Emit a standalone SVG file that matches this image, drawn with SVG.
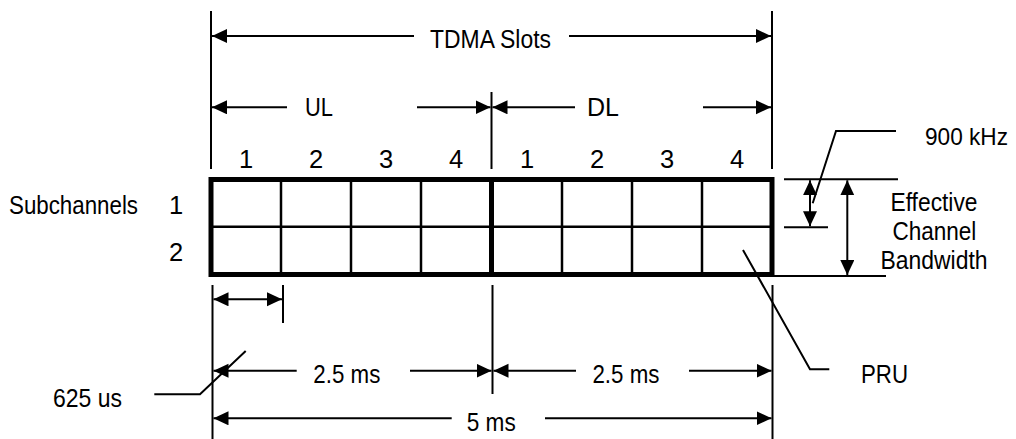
<svg xmlns="http://www.w3.org/2000/svg" width="1016" height="439" viewBox="0 0 1016 439">
<style>
text{font-family:"Liberation Sans",Arial,sans-serif;font-size:25.5px;fill:#000}
.m{text-anchor:middle}
.l{stroke:#000;stroke-width:2;fill:none}
.thin{stroke:#000;stroke-width:2.5;fill:none}
.thick{stroke:#000;stroke-width:5;fill:none}
.a{marker-end:url(#ah)}
.s{marker-start:url(#ah)}
</style>
<defs>
<marker id="ah" markerUnits="userSpaceOnUse" markerWidth="16" markerHeight="15" refX="15" refY="7" orient="auto-start-reverse"><path d="M0,0 L15,7 L0,14 z" fill="#000"/></marker>
</defs>
<rect width="1016" height="439" fill="#fff"/>
<g id="grid">
<line class="thin" x1="211" y1="226.7" x2="772" y2="226.7"/>
<line class="thin" x1="281" y1="179.5" x2="281" y2="274.5"/>
<line class="thin" x1="351" y1="179.5" x2="351" y2="274.5"/>
<line class="thin" x1="421" y1="179.5" x2="421" y2="274.5"/>
<line class="thin" x1="562" y1="179.5" x2="562" y2="274.5"/>
<line class="thin" x1="632" y1="179.5" x2="632" y2="274.5"/>
<line class="thin" x1="702" y1="179.5" x2="702" y2="274.5"/>
<line class="thick" x1="491.5" y1="179.5" x2="491.5" y2="274.5"/>
<rect class="thick" x="211" y="179.5" width="561" height="95"/>
</g>
<g id="slot-numbers">
<text class="m" x="246" y="168">1</text>
<text class="m" x="316" y="168">2</text>
<text class="m" x="386" y="168">3</text>
<text class="m" x="456" y="168">4</text>
<text class="m" x="527" y="168">1</text>
<text class="m" x="597" y="168">2</text>
<text class="m" x="667" y="168">3</text>
<text class="m" x="737" y="168">4</text>
</g>
<g id="subchannels">
<text x="9" y="214" textLength="129" lengthAdjust="spacingAndGlyphs">Subchannels</text>
<text class="m" x="176" y="214">1</text>
<text class="m" x="176" y="261">2</text>
</g>
<g id="label-tdma"><text x="430" y="47.5" textLength="121" lengthAdjust="spacingAndGlyphs">TDMA Slots</text></g>
<g id="label-ul"><text x="305" y="115.5" textLength="28" lengthAdjust="spacingAndGlyphs">UL</text></g>
<g id="label-dl"><text x="587" y="115.5" textLength="32" lengthAdjust="spacingAndGlyphs">DL</text></g>
<g id="label-900"><text x="925" y="144.5" style="font-size:24px" textLength="83" lengthAdjust="spacingAndGlyphs">900 kHz</text></g>
<g id="label-ecb">
<text class="m" x="934" y="211" textLength="87" lengthAdjust="spacingAndGlyphs">Effective</text>
<text class="m" x="934.4" y="240" textLength="84" lengthAdjust="spacingAndGlyphs">Channel</text>
<text class="m" x="934" y="268.5" textLength="107" lengthAdjust="spacingAndGlyphs">Bandwidth</text>
</g>
<g id="label-pru"><text x="861" y="382.5" textLength="47" lengthAdjust="spacingAndGlyphs">PRU</text></g>
<g id="label-625"><text x="53" y="407" textLength="69" lengthAdjust="spacingAndGlyphs">625 us</text></g>
<g id="label-25a"><text x="313.3" y="383" textLength="67" lengthAdjust="spacingAndGlyphs">2.5 ms</text></g>
<g id="label-25b"><text x="592.4" y="383" textLength="67" lengthAdjust="spacingAndGlyphs">2.5 ms</text></g>
<g id="label-5"><text x="466.7" y="430.5" textLength="49" lengthAdjust="spacingAndGlyphs">5 ms</text></g>
<g id="connectors">
<line class="l" x1="211" y1="11" x2="211" y2="169"/>
<line class="l" x1="491.5" y1="92" x2="491.5" y2="169"/>
<line class="l" x1="772" y1="11" x2="772" y2="169"/>
<line class="l" x1="212.5" y1="285" x2="212.5" y2="439"/>
<line class="l" x1="283" y1="285" x2="283" y2="323"/>
<line class="l" x1="492.5" y1="285" x2="492.5" y2="394"/>
<line class="l" x1="772.5" y1="285" x2="772.5" y2="439"/>
<line class="l" x1="784" y1="179.3" x2="898" y2="179.3"/>
<line class="l" x1="784" y1="227.3" x2="828" y2="227.3"/>
<line class="l" x1="772" y1="276" x2="886" y2="276"/>
<line class="l s" x1="212" y1="36" x2="414" y2="36"/>
<line class="l a" x1="569" y1="36" x2="771" y2="36"/>
<line class="l s" x1="212" y1="107.3" x2="287" y2="107.3"/>
<line class="l a" x1="417" y1="107.3" x2="490.5" y2="107.3"/>
<line class="l s" x1="492.5" y1="107.3" x2="575" y2="107.3"/>
<line class="l a" x1="703" y1="107.3" x2="771" y2="107.3"/>
<line class="l s a" x1="213.5" y1="299.3" x2="282" y2="299.3"/>
<line class="l s" x1="213.5" y1="370.7" x2="296.7" y2="370.7"/>
<line class="l a" x1="410" y1="370.7" x2="491.5" y2="370.7"/>
<line class="l s" x1="493.5" y1="370.7" x2="576" y2="370.7"/>
<line class="l a" x1="689" y1="370.7" x2="771.5" y2="370.7"/>
<line class="l s" x1="213.5" y1="418.3" x2="451.7" y2="418.3"/>
<line class="l a" x1="545" y1="418.3" x2="771.5" y2="418.3"/>
<line class="l s a" x1="810" y1="180.3" x2="810" y2="226.3"/>
<line class="l s a" x1="847.3" y1="180.3" x2="847.3" y2="275"/>
<polyline class="l" points="896,131 836,131 812.7,203.3"/>
<polyline class="l" points="154.3,394.3 200,394.3 245.7,351"/>
<polyline class="l" points="743,250 810,369.3 829.3,369.3"/>
</g>
</svg>
